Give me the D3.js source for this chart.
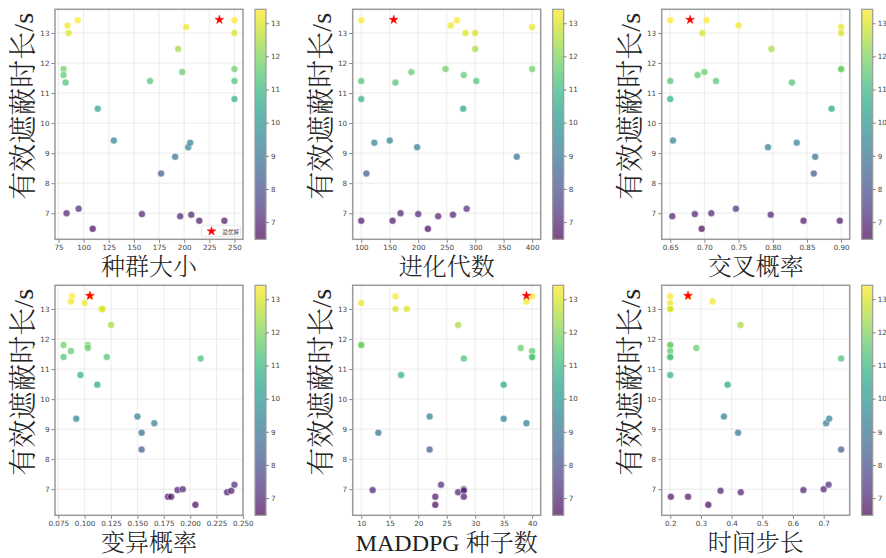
<!DOCTYPE html>
<html>
<head>
<meta charset="utf-8">
<script src="https://cdn.jsdelivr.net/npm/d3@7/dist/d3.min.js"></script>
<style>
  html, body { margin: 0; padding: 0; background: #fff; }
  svg { display: block; }
  .tick text { font-family: "DejaVu Sans", sans-serif; }
</style>
</head>
<body>
<svg id="chart" width="886" height="558"></svg>
<script>
// Effective shielding duration (s) for each run, against each tuned parameter: [param, duration]
const popSize = [
  [84,13.25],[85,13.0],[94,13.42],[202,13.2],[250,13.42],[250,13.0],
  [194,12.47],
  [80,11.8],[80,11.6],[82,11.35],[166,11.4],[198,11.7],[250,11.8],[250,11.4],[250,10.8],
  [114,10.48],
  [130,9.42],[177,8.32],[191,8.88],[204,9.2],[206,9.35],
  [83,7.0],[95,7.15],[109,6.48],[158,6.97],[196,6.9],[207,6.95],[215,6.75],[240,6.75]
];
const generations = [
  [100,13.42],[257,13.25],[268,13.42],[283,13.0],[300,13.0],[400,13.2],
  [300,12.47],
  [100,11.4],[100,10.8],[160,11.35],[188,11.7],[248,11.8],[280,11.6],[302,11.4],[400,11.8],
  [279,10.48],
  [123,9.35],[150,9.42],[198,9.2],[373,8.88],[109,8.32],
  [100,6.75],[155,6.75],[169,7.0],[200,6.97],[217,6.48],[235,6.9],[261,6.95],[285,7.15]
];
const crossover = [
  [0.65,13.42],[0.703,13.42],[0.697,13.0],[0.75,13.25],[0.9,13.2],[0.9,13.0],
  [0.798,12.47],
  [0.65,11.4],[0.65,10.8],[0.69,11.6],[0.70,11.7],[0.717,11.4],[0.828,11.35],[0.9,11.8],[0.9,11.8],
  [0.886,10.48],
  [0.654,9.42],[0.793,9.2],[0.835,9.35],[0.862,8.88],[0.86,8.32],
  [0.653,6.9],[0.686,6.97],[0.696,6.48],[0.71,7.0],[0.746,7.15],[0.797,6.95],[0.845,6.75],[0.898,6.75]
];
const mutation = [
  [0.088,13.42],[0.087,13.25],[0.100,13.2],[0.116,13.0],[0.117,13.0],[0.105,13.42],
  [0.125,12.47],
  [0.080,11.8],[0.080,11.4],[0.087,11.6],[0.103,11.8],[0.103,11.7],[0.121,11.4],[0.210,11.35],[0.096,10.8],
  [0.112,10.48],
  [0.092,9.35],[0.150,9.42],[0.154,8.88],[0.154,8.32],[0.166,9.2],
  [0.179,6.75],[0.182,6.75],[0.188,6.97],[0.193,7.0],[0.205,6.48],[0.235,6.9],[0.239,6.95],[0.242,7.15]
];
const seeds = [
  [10,13.2],[16,13.42],[16,13.0],[18,13.0],[39,13.25],[40,13.42],
  [27,12.47],
  [10,11.8],[10,11.8],[38,11.7],[40,11.6],[40,11.4],[40,11.4],[28,11.35],[17,10.8],
  [35,10.48],
  [22,9.42],[35,9.35],[39,9.2],[13,8.88],[22,8.32],
  [12,6.97],[23,6.75],[23,6.48],[24,7.15],[27,6.9],[28,7.0],[28,6.95],[28,6.75]
];
const timeStep = [
  [0.2,13.42],[0.2,13.2],[0.2,13.0],[0.2,13.0],[0.338,13.25],[0.258,13.42],
  [0.429,12.47],
  [0.2,11.8],[0.2,11.8],[0.2,11.6],[0.2,11.4],[0.2,11.4],[0.2,10.8],[0.285,11.7],[0.757,11.35],
  [0.387,10.48],
  [0.375,9.42],[0.421,8.88],[0.708,9.2],[0.718,9.35],[0.757,8.32],
  [0.202,6.75],[0.258,6.75],[0.324,6.48],[0.364,6.95],[0.43,6.9],[0.634,6.97],[0.70,7.0],[0.716,7.15]
];

// Best solution (star) for each parameter
const bestParams = [235, 157, 0.679, 0.105, 39, 0.258];
const bestDuration = 13.44;

const xLabels = ["种群大小", "进化代数", "交叉概率", "变异概率", "MADDPG 种子数", "时间步长"];
const yLabel = "有效遮蔽时长/s";
const legendLabel = "最优解";

const xTicks = [
  [75,100,125,150,175,200,225,250],
  [100,150,200,250,300,350,400],
  [0.65,0.70,0.75,0.80,0.85,0.90],
  [0.075,0.100,0.125,0.150,0.175,0.200,0.225,0.250],
  [10,15,20,25,30,35,40],
  [0.2,0.3,0.4,0.5,0.6,0.7]
];
const xFormats = ["d", "d", ".2f", ".3f", "d", ".1f"];
const yTicks = [7, 8, 9, 10, 11, 12, 13];
const cbarTicks = [7, 8, 9, 10, 11, 12, 13];

const datasets = [popSize, generations, crossover, mutation, seeds, timeStep];

// ---- layout ----
const svg = d3.select("#chart");
const colLefts = [55, 352.7, 661.7];
const rowTops = [9.3, 285.3];
const plotW = 188, plotH = 230;
const cbarGap = 12, cbarW = 11;
const alpha = 0.7;

const defs = svg.append("defs");
const grad = defs.append("linearGradient")
  .attr("id", "viridisGrad").attr("x1", 0).attr("y1", 1).attr("x2", 0).attr("y2", 0);
d3.range(0, 1.0001, 0.05).forEach(t => {
  grad.append("stop").attr("offset", t).attr("stop-color", d3.interpolateViridis(t));
});

function padded(ext) {
  const r = ext[1] - ext[0];
  return [ext[0] - 0.05 * r, ext[1] + 0.05 * r];
}

const starPath = d3.symbol().type(d3.symbolStar).size(24)();

datasets.forEach((data, i) => {
  const col = i % 3, row = Math.floor(i / 3);
  const left = colLefts[col], top = rowTops[row];
  const g = svg.append("g").attr("transform", `translate(${left},${top})`);

  const xs = data.map(d => d[0]).concat([bestParams[i]]);
  const ys = data.map(d => d[1]).concat([bestDuration]);
  const x = d3.scaleLinear().domain(padded(d3.extent(xs))).range([0, plotW]);
  const y = d3.scaleLinear().domain(padded(d3.extent(ys))).range([plotH, 0]);
  const cExt = d3.extent(data, d => d[1]);
  const color = d3.scaleSequential(d3.interpolateViridis).domain(cExt);

  // grid
  g.append("g").selectAll("line.gx").data(xTicks[i]).join("line")
    .attr("x1", d => x(d)).attr("x2", d => x(d)).attr("y1", 0).attr("y2", plotH)
    .attr("stroke", "#b0b0b0").attr("stroke-opacity", 0.3).attr("stroke-width", 0.8);
  g.append("g").selectAll("line.gy").data(yTicks).join("line")
    .attr("y1", d => y(d)).attr("y2", d => y(d)).attr("x1", 0).attr("x2", plotW)
    .attr("stroke", "#b0b0b0").attr("stroke-opacity", 0.3).attr("stroke-width", 0.8);

  // axes
  const xAxis = d3.axisBottom(x).tickValues(xTicks[i]).tickFormat(d3.format(xFormats[i]))
    .tickSize(3.5).tickPadding(2);
  const yAxis = d3.axisLeft(y).tickValues(yTicks).tickFormat(d3.format("d"))
    .tickSize(3.5).tickPadding(2);
  const gx = g.append("g").attr("transform", `translate(0,${plotH})`).call(xAxis);
  const gy = g.append("g").call(yAxis);
  [gx, gy].forEach(a => {
    a.select(".domain").remove();
    a.selectAll(".tick line").attr("stroke", "#666").attr("stroke-width", 0.8);
    a.selectAll(".tick text").attr("fill", "#444").style("font-size", "7.2px");
  });

  // points
  g.append("g").selectAll("circle").data(data).join("circle")
    .attr("cx", d => x(d[0])).attr("cy", d => y(d[1])).attr("r", 3.5)
    .attr("fill", d => color(d[1])).attr("fill-opacity", alpha)
    .attr("stroke", "#fff").attr("stroke-width", 0.5);

  // best solution
  g.append("path").attr("d", starPath)
    .attr("transform", `translate(${x(bestParams[i])},${y(bestDuration)})`)
    .attr("fill", "red").attr("stroke", "red").attr("stroke-width", 0.5);

  // frame
  g.append("rect").attr("width", plotW).attr("height", plotH)
    .attr("fill", "none").attr("stroke", "#9a9a9a").attr("stroke-width", 1.5);

  // legend (first panel only)
  if (i === 0) {
    const lg = g.append("g").attr("transform", `translate(${plotW - 41.5},${plotH - 14})`);
    lg.append("rect").attr("width", 39).attr("height", 11.5).attr("rx", 1.5)
      .attr("fill", "#fff").attr("fill-opacity", 0.8).attr("stroke", "#ddd").attr("stroke-width", 0.7);
    lg.append("path").attr("d", starPath).attr("transform", "translate(10,6)")
      .attr("fill", "red").attr("stroke", "red").attr("stroke-width", 0.5);
    lg.append("text").attr("x", 21).attr("y", 8.6).text(legendLabel)
      .attr("fill", "#444").style("font-family", "'Noto Sans CJK SC', sans-serif").style("font-size", "5.5px");
  }

  // colorbar
  const cb = svg.append("g").attr("transform", `translate(${left + plotW + cbarGap},${top})`);
  const cy = d3.scaleLinear().domain(cExt).range([plotH, 0]);
  cb.append("rect").attr("width", cbarW).attr("height", plotH)
    .attr("fill", "url(#viridisGrad)").attr("fill-opacity", alpha);
  cb.append("rect").attr("width", cbarW).attr("height", plotH)
    .attr("fill", "none").attr("stroke", "#9a9a9a").attr("stroke-width", 1.2);
  const cAxis = cb.append("g").attr("transform", `translate(${cbarW},0)`)
    .call(d3.axisRight(cy).tickValues(cbarTicks).tickFormat(d3.format("d")).tickSize(3).tickPadding(2));
  cAxis.select(".domain").remove();
  cAxis.selectAll(".tick line").attr("stroke", "#666").attr("stroke-width", 0.8);
  cAxis.selectAll(".tick text").attr("fill", "#444").style("font-size", "7.2px");

  // axis titles
  const titleFont = "'Liberation Serif', 'Noto Serif CJK SC', 'Noto Sans CJK SC', serif";
  svg.append("text")
    .attr("x", left + plotW / 2).attr("y", top + plotH + 36)
    .attr("text-anchor", "middle")
    .style("font-family", titleFont).style("font-size", "24px").style("font-weight", 300)
    .attr("fill", "#222").text(xLabels[i]);
  const ly = top + plotH / 2 - 18, lx = left - 32;
  svg.append("text")
    .attr("transform", `translate(${lx},${ly}) rotate(-90)`)
    .attr("text-anchor", "middle").attr("dy", "0.35em")
    .style("font-family", titleFont).style("font-size", "28px").style("font-weight", 300)
    .attr("fill", "#222").text(yLabel);
});
</script>
</body>
</html>
